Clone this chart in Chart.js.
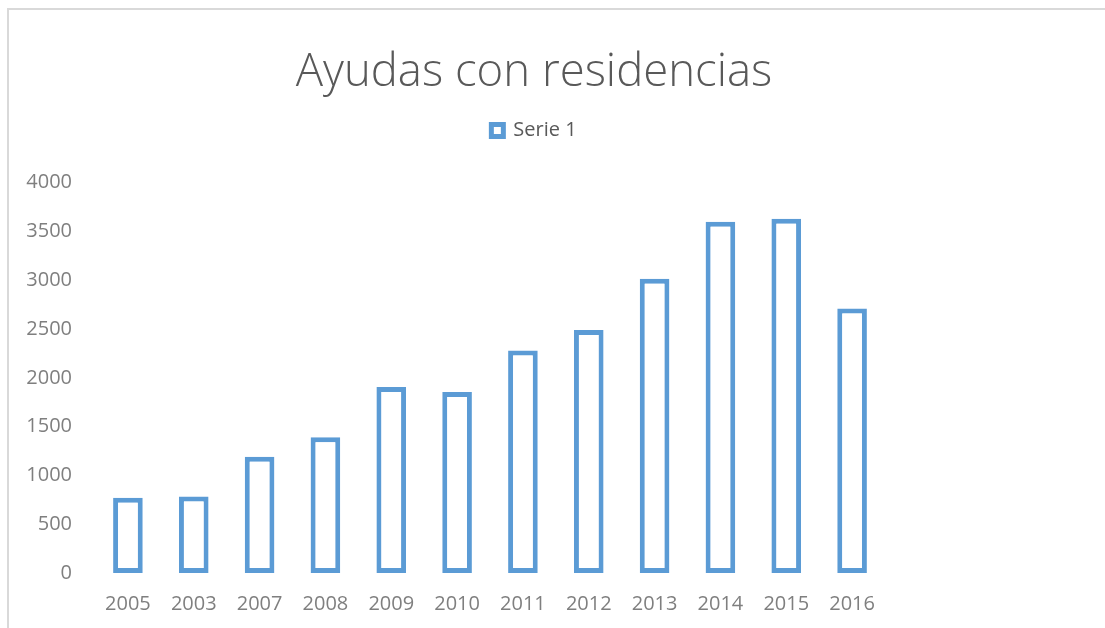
<!DOCTYPE html>
<html>
<head>
<meta charset="utf-8">
<script src="https://cdn.jsdelivr.net/npm/chart.js@4"></script>
<style>
  html, body { margin: 0; padding: 0; background: #fff; }
  #marco { position: absolute; left: 7px; top: 8px; width: 1200px; height: 700px;
           border-top: 2px solid #d9d9d9; border-left: 2px solid #d9d9d9; }
  #caja { position: absolute; left: 0; top: 0; width: 1105px; height: 628px; }
</style>
</head>
<body>
<div id="marco"></div>
<div id="caja"><canvas id="chart1"></canvas></div>
<script>
// datos
const anios = ['2005', '2003', '2007', '2008', '2009', '2010', '2011', '2012', '2013', '2014', '2015', '2016'];
const serie1 = [770, 785, 1190, 1390, 1905, 1855, 2280, 2490, 3015, 3600, 3630, 2710];
const ticksY = [0, 500, 1000, 1500, 2000, 2500, 3000, 3500, 4000];

const azul = '#5B9BD5';
const gris = '#7f7f7f';

Chart.defaults.font.family = "'Open Sans', sans-serif";

const datos = {
  labels: anios,
  datasets: [
    {
      label: 'Serie 1',
      data: serie1,
      backgroundColor: '#FFFFFF',
      borderColor: azul,
      borderWidth: 5,
      borderSkipped: false,
      categoryPercentage: 1,
      barPercentage: 0.45
    }
  ]
};

const options = {
  responsive: true,
  maintainAspectRatio: false,
  animation: false,
  layout: { padding: { left: 0, right: 37, top: 0, bottom: 0 } },
  plugins: {
    title: {
      display: true,
      text: 'Ayudas con residencias',
      color: '#595959',
      font: { size: 45.5, weight: '300' },
      padding: { top: 46, bottom: 8 }
    },
    legend: {
      display: true,
      labels: {
        color: '#595959',
        font: { size: 20 },
        boxWidth: 12,
        boxHeight: 12,
        padding: 12
      }
    },
    tooltip: { enabled: false }
  },
  scales: {
    x: {
      grid: { display: false, drawTicks: false },
      border: { display: false },
      ticks: { color: gris, font: { size: 20 }, padding: 19, maxRotation: 0 },
      afterFit(s) { s.height = 55; }
    },
    arriba: {
      type: 'category',
      position: 'top',
      grid: { display: false, drawTicks: false },
      border: { display: false },
      ticks: { display: false },
      afterFit(s) { s.height = 32; }
    },
    y: {
      min: 0,
      max: 4000,
      grid: { display: false, drawTicks: false },
      border: { display: false },
      afterBuildTicks(s) { s.ticks = ticksY.map(v => ({ value: v })); },
      ticks: { color: gris, font: { size: 20 }, padding: 23, callback: v => String(v) },
      afterFit(s) { s.width = 95; }
    },
    derecha: {
      type: 'linear',
      position: 'right',
      grid: { display: false, drawTicks: false },
      border: { display: false },
      ticks: { display: false },
      afterFit(s) { s.width = 183; }
    }
  }
};

const ctx = document.getElementById('chart1').getContext('2d');
new Chart(ctx, { type: 'bar', data: datos, options });
</script>
</body>
</html>
